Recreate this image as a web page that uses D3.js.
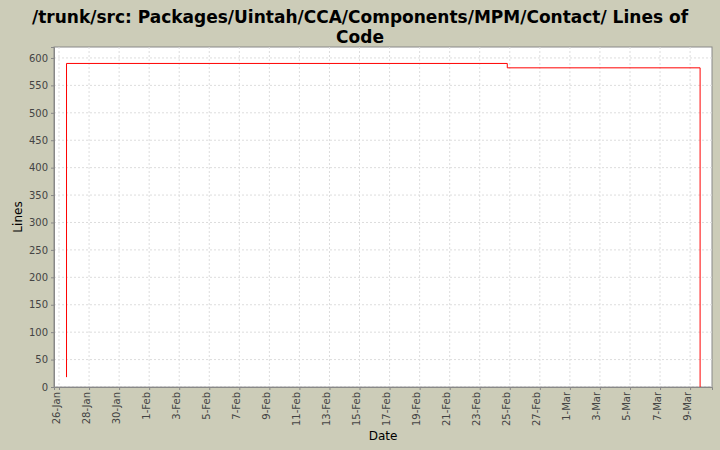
<!DOCTYPE html><html><head><meta charset="utf-8">
<script src="https://cdn.jsdelivr.net/npm/d3@7"></script>
<style>body{margin:0;background:#CCCCB8}</style></head><body>
<svg id="c" width="720" height="450"></svg>
<script>
const dates=["2007-01-26T12:00","2007-01-26T12:00","2007-02-24T20:00","2007-02-24T20:00","2007-03-09T16:00","2007-03-09T16:00"];
const lines=[18,590,590,582,582,0];
const yTicks=d3.range(0,601,50);
const title=["/trunk/src: Packages/Uintah/CCA/Components/MPM/Contact/ Lines of","Code"];
const svg=d3.select("#c");
const L=54,R=712,T=47,B=387;
const p=d3.timeParse("%Y-%m-%dT%H:%M");
const x=d3.scaleTime().domain([p("2007-01-25T16:00"),p("2007-03-10T11:00")]).range([L,R]);
const y=d3.scaleLinear().domain([0,620]).range([B,T]);
svg.append("rect").attr("x",L).attr("y",T).attr("width",R-L).attr("height",B-T).attr("fill","#fff").attr("stroke","#888");
const xt=d3.timeDay.range(p("2007-01-26T00:00"),p("2007-03-11T00:00"),2);
svg.append("g").selectAll("line").data(xt).join("line").attr("x1",d=>x(d)).attr("x2",d=>x(d)).attr("y1",T).attr("y2",B).attr("stroke","#ddd").attr("stroke-dasharray","2,2");
svg.append("g").selectAll("line").data(yTicks).join("line").attr("x1",L).attr("x2",R).attr("y1",d=>y(d)).attr("y2",d=>y(d)).attr("stroke","#ddd").attr("stroke-dasharray","2,2");
const ya=svg.append("g").attr("transform",`translate(${L},0)`).call(d3.axisLeft(y).tickValues(yTicks).tickSize(3));
ya.selectAll("text").attr("font-family","DejaVu Sans").attr("font-size",10).attr("fill","#444");
const xa=svg.append("g").attr("transform",`translate(0,${B})`).call(d3.axisBottom(x).tickValues(xt).tickSize(3).tickFormat(d3.timeFormat("%-d-%b")));
xa.selectAll("text").attr("font-family","DejaVu Sans").attr("font-size",10).attr("fill","#444").attr("transform","rotate(-90)").attr("text-anchor","end").attr("dx","-5").attr("dy","-0.3em").attr("y",0).attr("x",0).style("dominant-baseline","middle");
svg.selectAll(".domain").attr("stroke","#888");
svg.selectAll(".tick line").attr("stroke","#888");
const data=dates.map((d,i)=>[p(d),lines[i]]);
svg.append("path").datum(data).attr("fill","none").attr("stroke","red").attr("d",d3.line().x(d=>x(d[0])).y(d=>y(d[1])));
svg.append("text").attr("x",360).attr("y",23).attr("text-anchor","middle").attr("font-family","DejaVu Sans").attr("font-weight","bold").attr("font-size",17).selectAll("tspan").data(title).join("tspan").attr("x",360).attr("dy",(d,i)=>i?20:0).text(d=>d);
svg.append("text").attr("x",383).attr("y",440).attr("text-anchor","middle").attr("font-family","DejaVu Sans").attr("font-size",12).text("Date");
svg.append("text").attr("transform","translate(22,217) rotate(-90)").attr("text-anchor","middle").attr("font-family","DejaVu Sans").attr("font-size",12).text("Lines");
</script></body></html>
